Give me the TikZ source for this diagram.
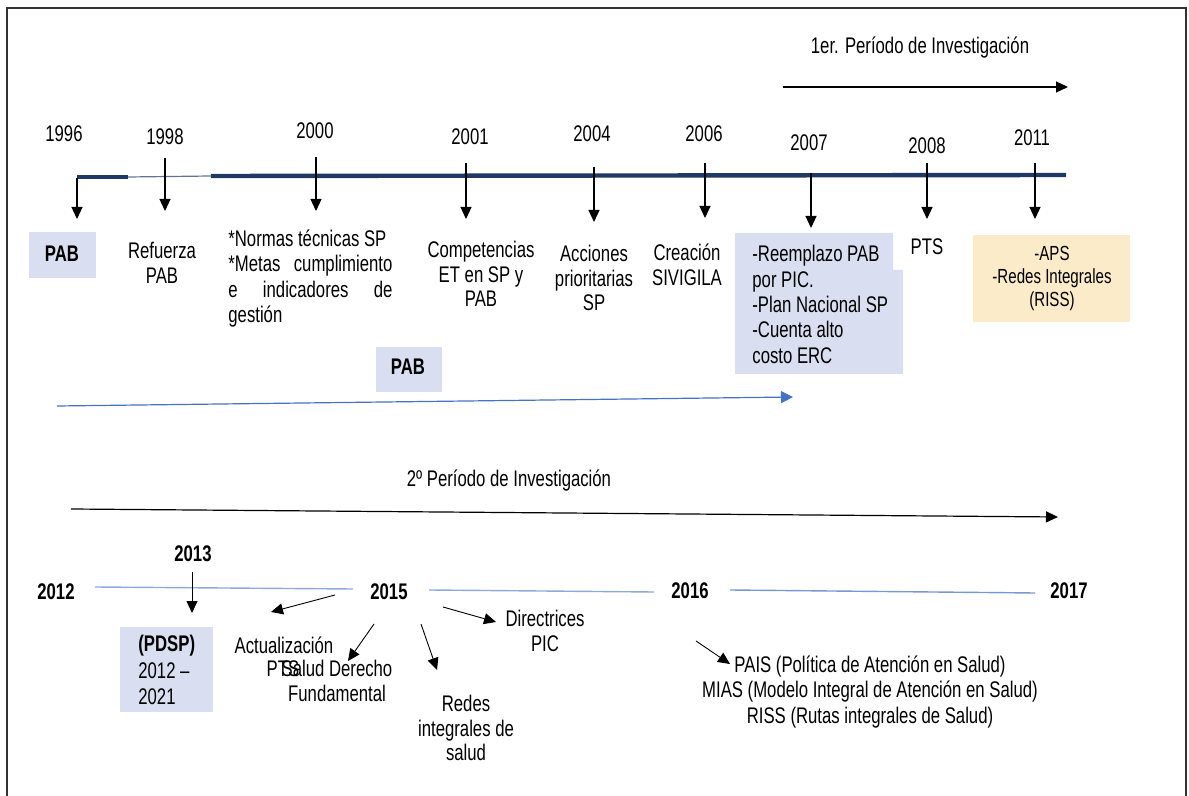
\documentclass[tikz,border=0pt]{standalone}
\usepackage{fontspec}
\setmainfont[FakeStretch=0.74]{Liberation Sans}
\usetikzlibrary{arrows.meta}
\definecolor{navy}{HTML}{1F3864}
\definecolor{boxblue}{HTML}{D9DFF0}
\definecolor{boxyellow}{HTML}{FCEBC8}
\definecolor{lineblue}{HTML}{4472C4}
\definecolor{paleblue}{HTML}{8EA9DB}
\tikzset{
  txt/.style={inner sep=0pt, align=center, font=\fontsize{11.3}{12.3}\selectfont},
  yr/.style={inner sep=0pt, font=\fontsize{11.3}{12}\selectfont},
  byr/.style={inner sep=0pt, font=\bfseries\fontsize{11.3}{12}\selectfont},
  tick/.style={-{Triangle[width=5.5pt,length=6pt]}, line width=0.6pt},
  thin tick/.style={-{Triangle[width=5.5pt,length=6pt]}, line width=0.45pt},
}
\begin{document}
\begin{tikzpicture}[x=0.5pt, y=-0.5pt]
\useasboundingbox (0,0) rectangle (1189,796);
% frame
\draw[line width=1.2pt, draw=black!80] (7,820) -- (7,8) -- (1186,8) -- (1186,820);

% ---------- first period ----------
\node[txt] (p1) at (920,48) {1er. Período de Investigación};
\coordinate (p1a) at (783,87);
\coordinate (p1b) at (1068,87);
\draw[tick] (p1a) -- (p1b);

% main timeline
\coordinate (t0) at (77,177);
\coordinate (t1) at (128,177);
\coordinate (t2) at (211,176);
\coordinate (t3) at (1066,175);
\draw[navy, line width=2.2pt] (t0) -- (t1);
\draw[navy!70, line width=0.6pt] (t1) -- (t2);
\draw[navy, line width=2.2pt] (t2) -- (t3);

% years
\node[yr] (y96) at (64,134) {1996};
\node[yr] (y98) at (165,137) {1998};
\node[yr] (y00) at (315,131) {2000};
\node[yr] (y01) at (470,137) {2001};
\node[yr] (y04) at (592,134) {2004};
\node[yr] (y06) at (704,134) {2006};
\node[yr] (y07) at (809,143) {2007};
\node[yr] (y08) at (927,146) {2008};
\node[yr] (y11) at (1032,138) {2011};

% boxes
\fill[boxblue] (29,232) rectangle (96,278);
\node[txt, font=\bfseries\fontsize{11.3}{12}\selectfont] (pab1) at (62,254) {PAB};
\node[txt] (ref) at (162,263) {Refuerza\\PAB};
\node[inner sep=0pt, anchor=north west, align=left, font=\fontsize{11.3}{12.8}\selectfont] (norm) at (228,229)
  {*Normas técnicas SP\\
   \hbox to 82pt{*Metas\hfill cumplimiento}\\
   \hbox to 82pt{e\hfill indicadores\hfill de}\\
   gestión};
\node[txt] (comp) at (481,274) {Competencias\\ET en SP y\\PAB};
\node[txt] (acc) at (594,278) {Acciones\\prioritarias\\SP};
\node[txt] (siv) at (687,265) {Creación\\SIVIGILA};
\fill[boxblue] (735,233) -- (893,233) -- (893,270) -- (903,270) -- (903,374) -- (735,374) -- cycle;
\node[inner sep=0pt, anchor=north west, align=left, font=\fontsize{11.3}{12.7}\selectfont] (pic) at (752,245)
  {-Reemplazo PAB\\por PIC.\\-Plan Nacional SP\\-Cuenta alto\\costo ERC};
\node[txt] (pts) at (927,247) {PTS};
\fill[boxyellow] (973,235) rectangle (1130,322);
\node[txt, font=\fontsize{10.2}{11.5}\selectfont] (aps) at (1052,278) {-APS\\-Redes Integrales\\(RISS)};

% year arrows
\coordinate (a96) at (77,178);  \coordinate (b96) at (77,219);
\coordinate (a98) at (165,158); \coordinate (b98) at (165,211);
\coordinate (a00) at (316,157); \coordinate (b00) at (316,211);
\coordinate (a01) at (466,163); \coordinate (b01) at (466,219);
\coordinate (a04) at (594,167); \coordinate (b04) at (594,222);
\coordinate (a06) at (705,163); \coordinate (b06) at (705,218);
\coordinate (a07) at (811,173); \coordinate (b07) at (811,228);
\coordinate (a08) at (927,163); \coordinate (b08) at (927,219);
\coordinate (a11) at (1035,163); \coordinate (b11) at (1035,219);
\foreach \k in {96,98,00,01,04,06,07,08,11}
  \draw[tick] (a\k) -- (b\k);

% second PAB and blue arrow
\fill[boxblue] (376,347) rectangle (442,392);
\node[txt, font=\bfseries\fontsize{11.3}{12}\selectfont] (pab2) at (408,367) {PAB};
\coordinate (ba) at (57,406);
\coordinate (bb) at (793,397);
\draw[lineblue, line width=0.6pt, -{Triangle[width=6pt,length=6pt]}] (ba) -- (bb);

% ---------- second period ----------
\node[txt] (p2) at (509,481) {2º Período de Investigación};
\coordinate (p2a) at (71,509);
\coordinate (p2b) at (1058,517);
\draw[tick] (p2a) -- (p2b);

\node[byr] (y12) at (56,592) {2012};
\node[byr] (y13) at (193,554) {2013};
\node[byr] (y15) at (389,592) {2015};
\node[byr] (y16) at (690,591) {2016};
\node[byr] (y17) at (1069,591) {2017};
\coordinate (l1) at (95,587);  \coordinate (l2) at (353,589);
\coordinate (l3) at (429,590); \coordinate (l4) at (654,592);
\coordinate (l5) at (730,590); \coordinate (l6) at (1035,593);
\draw[paleblue, line width=0.7pt] (l1) -- (l2);
\draw[paleblue, line width=0.7pt] (l3) -- (l4);
\draw[paleblue!70!lineblue, line width=0.7pt] (l5) -- (l6);

\coordinate (a13) at (192,572); \coordinate (b13) at (192,613);
\draw[thin tick] (a13) -- (b13);
\fill[boxblue] (120,627) rectangle (213,712);
\node[inner sep=0pt, anchor=north west, align=left, font=\fontsize{11.3}{13.3}\selectfont] (pdsp) at (138,635)
  {\textbf{(PDSP)}\\2012 –\\2021};

\node[txt] (act) at (284,645) {Actualización};
\node[txt] (apts) at (283,669) {PTS};
\node[txt] (sal) at (337,681) {Salud Derecho\\Fundamental};
\node[txt] (red) at (466,728) {Redes\\integrales de\\salud};
\node[txt] (dir) at (545,631) {Directrices\\PIC};

\coordinate (c1) at (335,595); \coordinate (d1) at (271,612);
\coordinate (c2) at (374,624); \coordinate (d2) at (348,661);
\coordinate (c3) at (421,624); \coordinate (d3) at (437,670);
\coordinate (c4) at (443,607); \coordinate (d4) at (496,622);
\coordinate (c5) at (696,641); \coordinate (d5) at (730,664);
\foreach \k in {1,...,5}
  \draw[thin tick] (c\k) -- (d\k);

\node[txt, font=\fontsize{11.3}{12.6}\selectfont] (pais) at (870,692) {PAIS (Política de Atención en Salud)\\MIAS (Modelo Integral de Atención en Salud)\\RISS (Rutas integrales de Salud)};
\end{tikzpicture}
\end{document}
